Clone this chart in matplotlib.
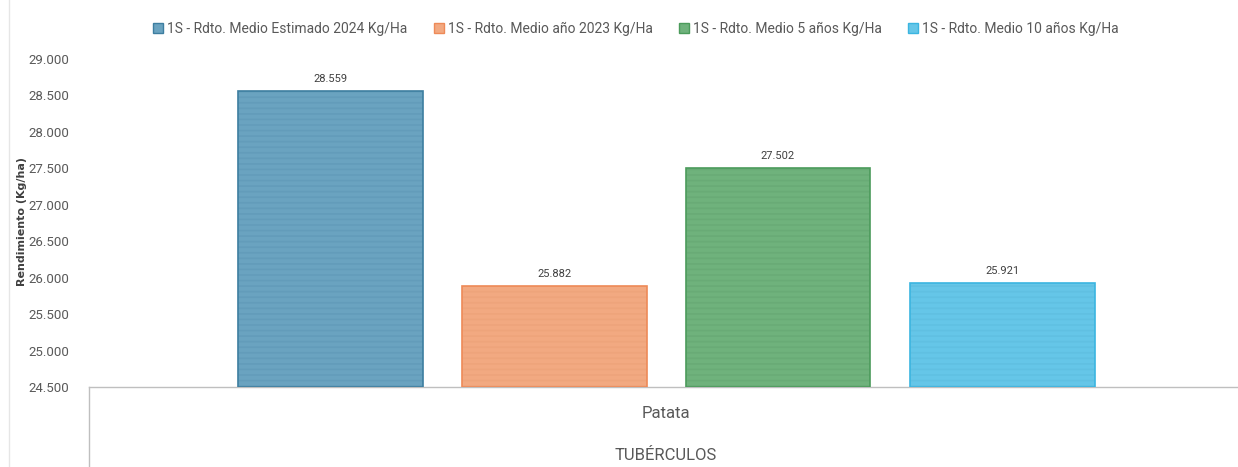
import matplotlib
matplotlib.use("Agg")
import numpy as np
from matplotlib import pyplot as plt
from matplotlib.lines import Line2D
from matplotlib.patches import Patch
from matplotlib.ticker import FuncFormatter

plt.rcParams['font.family'] = ['Roboto', 'DejaVu Sans']
plt.rcParams['hatch.linewidth'] = 1.2

category = 'Patata'
group = 'TUBÉRCULOS'
series = ['1S - Rdto. Medio Estimado 2024 Kg/Ha',
          '1S - Rdto. Medio año 2023 Kg/Ha',
          '1S - Rdto. Medio 5 años Kg/Ha',
          '1S - Rdto. Medio 10 años Kg/Ha']
values = [28559, 25882, 27502, 25921]
fills = ['#6aa3c0', '#f2a981', '#6fb27c', '#65c6e8']
edges = ['#3d7ea0', '#ee8a58', '#4b9b5b', '#3bb5e0']
stripes = ['#639cba', '#eea47b', '#69ab76', '#60c0e2']

W, H = 1238, 467
fig = plt.figure(figsize=(W / 100, H / 100), dpi=100)
x0, x1, ytop, ybot = 89, 1243, 59, 387
ax = fig.add_axes([x0 / W, 1 - ybot / H, (x1 - x0) / W, (ybot - ytop) / H])

def thousands(v, pos=None):
    return f'{v:,.0f}'.replace(',', '.')

offsets = [-0.2907, -0.0966, 0.097, 0.2916]
width = 0.160
for off, v, fc, ec, sc in zip(offsets, values, fills, edges, stripes):
    ax.bar(off, v - 24500, bottom=24500, width=width, color=fc, edgecolor=sc, linewidth=0, hatch='---', zorder=2)
    ax.bar(off, v - 24500, bottom=24500, width=width, color='none', edgecolor=ec, linewidth=1.2, zorder=3)
    ax.text(off, v + 100, thousands(v), ha='center', va='bottom', fontsize=8, color='#404040')

ax.set_xlim(-0.5, 0.5)
ax.set_ylim(24500, 29000)
ax.set_yticks(np.arange(24500, 29001, 500))
ax.yaxis.set_major_formatter(FuncFormatter(thousands))
ax.set_xticks([])
ax.tick_params(axis='y', length=0, pad=14, labelsize=9.5, labelcolor='#595959')
for s in ['top', 'right', 'left']:
    ax.spines[s].set_visible(False)
ax.spines['bottom'].set_color('#bfbfbf')
ax.spines['bottom'].set_linewidth(1)

# category separators and chart border
fig.add_artist(Line2D([x0 / W, x0 / W], [0, 1 - ybot / H], color='#bfbfbf', lw=1))
fig.add_artist(Line2D([9 / W, 9 / W], [0, 1], color='#e6e6e6', lw=1))

fig.text(666 / W, 1 - 413 / H, category, ha='center', va='center', fontsize=12, color='#595959')
fig.text(666 / W, 1 - 456 / H, group, ha='center', va='center', fontsize=12, color='#595959')
fig.text(22 / W, 1 - 222 / H, 'Rendimiento (Kg/ha)', rotation=90, ha='center', va='center',
         fontsize=8, fontweight='bold', color='#404040', family=['DejaVu Sans'])

handles = [Patch(facecolor=fc, edgecolor=ec) for fc, ec in zip(fills, edges)]
fig.legend(handles, series, loc='center', bbox_to_anchor=(636 / W, 1 - 29 / H), ncol=4,
           frameon=False, fontsize=10, handlelength=0.7, handleheight=0.7,
           handletextpad=0.3, columnspacing=1.9, labelcolor='#595959')

fig.savefig('out.png', dpi=100)
